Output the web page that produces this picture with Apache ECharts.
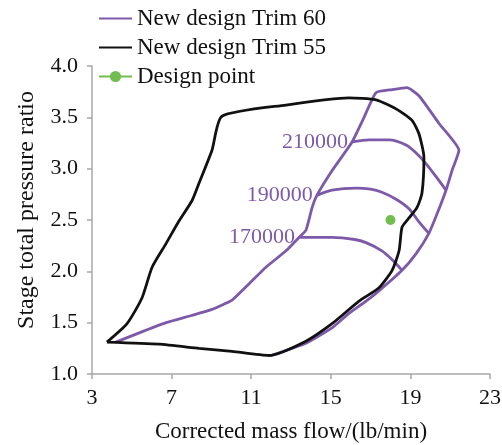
<!DOCTYPE html>
<html>
<head>
<meta charset="utf-8">
<script src="https://cdn.jsdelivr.net/npm/echarts@6/dist/echarts.min.js"></script>
<style>
  html, body { margin: 0; padding: 0; background: #fff; }
  #chart { width: 502px; height: 445px; }
</style>
</head>
<body>
<div id="chart"></div>
<script>
// Compressor map: corrected mass flow (lb/min) vs stage total pressure ratio

const xTicks = [3, 7, 11, 15, 19, 23];
const yTicks = [1.0, 1.5, 2.0, 2.5, 3.0, 3.5, 4.0];

// Trim 60 envelope: surge line, top speed line, right edge and choke line
const trim60Envelope = [
  [4.2, 1.31], [5.5, 1.41], [6.72, 1.50], [8.0, 1.57], [9.03, 1.63], [10.04, 1.72],
  [10.9, 1.88], [11.74, 2.04], [12.75, 2.20], [13.4, 2.33], [13.75, 2.40],
  [14.06, 2.62], [14.3, 2.74], [15.06, 2.98], [16.07, 3.26], [16.67, 3.50],
  [17.27, 3.74], [18.08, 3.77], [18.83, 3.79], [19.43, 3.71], [20.44, 3.44],
  [21.44, 3.18], [21.09, 2.98], [20.79, 2.79], [20.34, 2.56], [19.93, 2.37],
  [19.28, 2.17], [18.58, 2.01], [17.42, 1.81], [16.77, 1.71], [15.91, 1.59],
  [15.06, 1.45], [13.75, 1.30], [11.99, 1.18]
];

// Trim 60 constant-speed lines (rpm)
const speedLabels = ['170000', '190000', '210000'];
const speed170000 = [
  [13.4, 2.33], [15.06, 2.33], [16.2, 2.31], [16.77, 2.28], [17.57, 2.20],
  [18.1, 2.11], [18.58, 2.01]
];
const speed190000 = [
  [14.3, 2.74], [15.06, 2.79], [16.27, 2.81], [17.0, 2.80], [17.57, 2.77],
  [18.3, 2.70], [18.93, 2.61], [19.4, 2.49], [19.93, 2.37]
];
const speed210000 = [
  [16.07, 3.26], [16.92, 3.28], [17.92, 3.28], [18.78, 3.23], [19.3, 3.15],
  [19.78, 3.05], [20.3, 2.92], [20.79, 2.79]
];
const speedLines = [speed170000, speed190000, speed210000];

// Trim 55 map outline (closed)
const trim55Outline = [
  [3.75, 1.31], [4.76, 1.49], [5.51, 1.74], [6.02, 2.04], [6.72, 2.27],
  [7.37, 2.49], [8.03, 2.69], [8.38, 2.86], [9.03, 3.18], [9.53, 3.51],
  [12.75, 3.62], [15.91, 3.69], [17.27, 3.67], [18.3, 3.58], [19.08, 3.47],
  [19.43, 3.34], [19.68, 3.11], [19.58, 2.76], [19.33, 2.62], [18.93, 2.52],
  [18.58, 2.43], [18.43, 2.20], [18.08, 2.01], [17.42, 1.84], [16.42, 1.71],
  [15.06, 1.49], [13.75, 1.32], [11.89, 1.18], [10.04, 1.22], [8.38, 1.25],
  [6.37, 1.29], [3.75, 1.31]
];

// Design operating point
const designPoint = [[18.0, 2.5]];

const PURPLE = '#7d5aa9';
const BLACK = '#111111';
const GREEN = '#72bd4f';
const AXIS_GREY = '#a8a8a8';
const FONT = "'Liberation Serif', 'Times New Roman', Times, serif";
const LINE_W = 2.8;

const speedSeries = speedLines.map(function (line, i) {
  return {
    name: 'New design Trim 60',
    type: 'line',
    data: line.map(function (p, j) {
      if (j === 0) {
        return {
          value: p,
          label: {
            show: true,
            position: 'left',
            distance: 4,
            formatter: speedLabels[i],
            color: PURPLE,
            fontFamily: FONT,
            fontSize: 22
          }
        };
      }
      return p;
    }),
    symbol: 'circle',
    symbolSize: 0,
    showSymbol: true,
    smooth: 0.3,
    lineStyle: { color: PURPLE, width: LINE_W },
    itemStyle: { color: PURPLE },
    z: 2,
    silent: true
  };
});

const chart = echarts.init(document.getElementById('chart'));
chart.setOption({
  animation: false,
  backgroundColor: '#ffffff',
  textStyle: { fontFamily: FONT },
  grid: { left: 92, right: 12, top: 66, bottom: 71, containLabel: false, outerBoundsMode: 'none' },
  legend: {
    orient: 'vertical',
    left: 93,
    top: 2,
    itemWidth: 33,
    itemHeight: 14,
    itemGap: 6,
    data: [
      { name: 'New design Trim 60', itemStyle: { opacity: 0 } },
      { name: 'New design Trim 55', itemStyle: { opacity: 0 } },
      { name: 'Design point' }
    ],
    textStyle: { fontFamily: FONT, fontSize: 23, color: '#111', lineHeight: 23 }
  },
  xAxis: {
    type: 'value',
    min: 3,
    max: 23,
    name: 'Corrected mass flow/(lb/min)',
    nameLocation: 'middle',
    nameGap: 46,
    nameTextStyle: { fontFamily: FONT, fontSize: 23, color: '#111' },
    axisLine: { show: true, lineStyle: { color: AXIS_GREY, width: 1.5 } },
    axisTick: { show: true, length: 5, inside: false, customValues: xTicks, lineStyle: { color: AXIS_GREY, width: 1.5 } },
    axisLabel: { customValues: xTicks, margin: 13, fontFamily: FONT, fontSize: 22, color: '#111' },
    splitLine: { show: false }
  },
  yAxis: {
    type: 'value',
    min: 1,
    max: 4,
    interval: 0.5,
    name: 'Stage total pressure ratio',
    nameLocation: 'middle',
    nameGap: 53,
    nameTextStyle: { fontFamily: FONT, fontSize: 24, color: '#111', padding: [0, 0, 0, 20] },
    axisLine: { show: true, lineStyle: { color: AXIS_GREY, width: 1.5 } },
    axisTick: { show: true, length: 5, lineStyle: { color: AXIS_GREY, width: 1.5 } },
    axisLabel: {
      margin: 14,
      fontFamily: FONT,
      fontSize: 22,
      color: '#111',
      formatter: function (v) { return v.toFixed(1); }
    },
    splitLine: { show: false }
  },
  series: [
    {
      name: 'New design Trim 60',
      type: 'line',
      data: trim60Envelope,
      symbol: 'none',
      smooth: 0.15,
      lineStyle: { color: PURPLE, width: LINE_W },
      itemStyle: { color: PURPLE },
      z: 2,
      silent: true
    }
  ].concat(speedSeries).concat([
    {
      name: 'New design Trim 55',
      type: 'line',
      data: trim55Outline,
      symbol: 'none',
      smooth: 0.2,
      lineStyle: { color: BLACK, width: LINE_W },
      itemStyle: { color: BLACK },
      z: 3,
      silent: true
    },
    {
      name: 'Design point',
      type: 'line',
      data: designPoint,
      symbol: 'circle',
      symbolSize: 10,
      lineStyle: { color: GREEN, width: LINE_W },
      itemStyle: { color: GREEN },
      z: 4,
      silent: true
    }
  ])
});
</script>
</body>
</html>
